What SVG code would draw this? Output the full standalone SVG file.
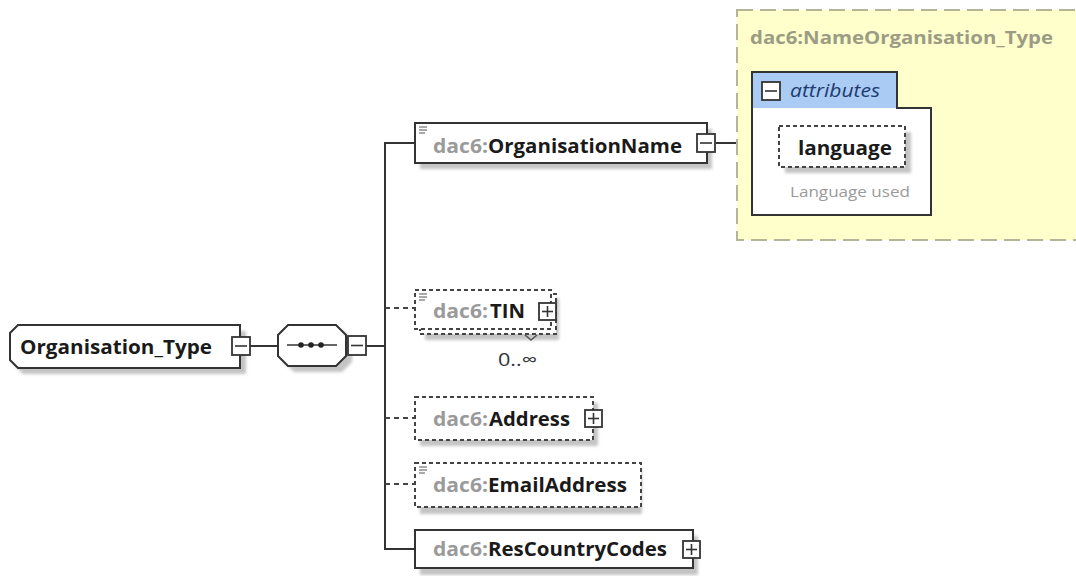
<svg xmlns="http://www.w3.org/2000/svg" width="1076" height="576" viewBox="0 0 1076 576">
<style>
.bg{fill:#ffffff}
.box{fill:#ffffff;stroke:#333333;stroke-width:2}
.dbox{fill:#ffffff;stroke:#444444;stroke-width:2;stroke-dasharray:4 3}
.shadow{fill:#c4c4c4;filter:url(#blur)}
.btn{fill:#ffffff;stroke:#333333;stroke-width:1.8}
.btnl{stroke:#333333;stroke-width:1.6}
.con{fill:none;stroke:#333333;stroke-width:2}
.dcon{fill:none;stroke:#444444;stroke-width:2;stroke-dasharray:5 4}
.t{font-family:"Open Sans","Noto Sans","Liberation Sans",sans-serif;font-weight:bold;font-size:19.5px}
.pre{fill:#9a9a9a}
.nm{fill:#1a1a1a}
.icon{stroke:#555555;stroke-width:1}
</style>
<defs>
<filter id="blur" x="-10%" y="-20%" width="120%" height="140%"><feGaussianBlur stdDeviation="1.5"/></filter>
</defs>
<rect class="bg" x="0" y="0" width="1076" height="576"/>

<g id="connectors">
<line class="con" x1="250" y1="346" x2="277" y2="346"/>
<line class="con" x1="367" y1="346" x2="385" y2="346"/>
<polyline class="con" points="415,143 385,143 385,549 415,549"/>
<line class="dcon" x1="385" y1="308" x2="415" y2="308"/>
<line class="dcon" x1="385" y1="418" x2="415" y2="418"/>
<line class="dcon" x1="385" y1="484" x2="415" y2="484"/>
<line class="con" x1="716" y1="143" x2="752" y2="143"/>
</g>

<g id="Organisation_Type">
<polygon class="shadow" points="23,331 246,331 246,374 23,374 15,366 15,339"/>
<polygon class="box" points="18,325 240,325 240,368 18,368 10,360 10,333"/>
<text class="t nm" x="20" y="354" textLength="192" lengthAdjust="spacingAndGlyphs">Organisation_Type</text>
<rect class="btn" x="232" y="337" width="18" height="18"/>
<line class="btnl" x1="235" y1="346" x2="247" y2="346"/>
</g>

<g id="sequence">
<polygon class="shadow" points="294,330 342,330 352,340 352,362 342,372 294,372 284,362 284,340"/>
<polygon class="box" points="288,325 336,325 346,335 346,356 336,366 288,366 278,356 278,335"/>
<line x1="287" y1="345" x2="337" y2="345" stroke="#333333" stroke-width="1.6"/>
<circle cx="301" cy="345" r="2.8" fill="#222222"/>
<circle cx="311" cy="345" r="2.8" fill="#222222"/>
<circle cx="321" cy="345" r="2.8" fill="#222222"/>
<rect class="btn" x="348" y="336" width="18" height="19"/>
<line class="btnl" x1="351" y1="345.5" x2="363" y2="345.5"/>
</g>

<g id="OrganisationName">
<rect class="shadow" x="420" y="129" width="292" height="40"/>
<rect class="box" x="415" y="123" width="292" height="40"/>
<line class="icon" x1="419" y1="127" x2="427" y2="127"/>
<line class="icon" x1="419" y1="130" x2="427" y2="130"/>
<line class="icon" x1="419" y1="133" x2="425" y2="133"/>
<text class="t" y="153"><tspan class="pre" x="433" textLength="55" lengthAdjust="spacingAndGlyphs">dac6:</tspan><tspan class="nm" x="488" textLength="194" lengthAdjust="spacingAndGlyphs">OrganisationName</tspan></text>
<rect class="btn" x="697" y="134" width="18" height="18"/>
<line class="btnl" x1="700" y1="143" x2="712" y2="143"/>
</g>

<g id="NameOrganisation_Type">
<rect x="737" y="10" width="360" height="230" fill="#ffffcc" stroke="#b4b496" stroke-width="2" stroke-dasharray="16 7"/>
<text x="750" y="44" font-family="'Open Sans','Noto Sans','Liberation Sans',sans-serif" font-weight="bold" font-size="18" fill="#9c9c84" textLength="303" lengthAdjust="spacingAndGlyphs">dac6:NameOrganisation_Type</text>
<polygon points="752,72 897,72 897,108 931,108 931,215 752,215" fill="#ffffff" stroke="#333333" stroke-width="2"/>
<rect x="753" y="73" width="143" height="35" fill="#aaccf4"/>
<rect class="btn" x="762" y="82" width="18" height="18"/>
<line class="btnl" x1="765" y1="91" x2="777" y2="91"/>
<text x="790" y="97" font-family="'Open Sans','Noto Sans','Liberation Sans',sans-serif" font-style="italic" font-size="18" fill="#1f3a6e" textLength="90" lengthAdjust="spacingAndGlyphs">attributes</text>
<rect class="shadow" x="785" y="132" width="126" height="41"/>
<rect class="dbox" x="779" y="126" width="126" height="41"/>
<text class="t nm" x="798" y="155" textLength="94" lengthAdjust="spacingAndGlyphs">language</text>
<text x="790" y="197" font-family="'Open Sans','Noto Sans','Liberation Sans',sans-serif" font-size="14.5" fill="#9a9a9a" textLength="120" lengthAdjust="spacingAndGlyphs">Language used</text>
</g>

<g id="TIN">
<rect class="shadow" x="425" y="298" width="134" height="42"/>
<rect class="dbox" x="420" y="294" width="136" height="40"/>
<rect class="dbox" x="415" y="290" width="136" height="39"/>
<line class="icon" x1="419" y1="294" x2="427" y2="294"/>
<line class="icon" x1="419" y1="297" x2="427" y2="297"/>
<line class="icon" x1="419" y1="300" x2="425" y2="300"/>
<text class="t" y="318"><tspan class="pre" x="433" textLength="55" lengthAdjust="spacingAndGlyphs">dac6:</tspan><tspan class="nm" x="490" textLength="35" lengthAdjust="spacingAndGlyphs">TIN</tspan></text>
<rect class="btn" x="539" y="303" width="17" height="17"/>
<line class="btnl" x1="542" y1="311.5" x2="553" y2="311.5"/>
<line class="btnl" x1="547.5" y1="306" x2="547.5" y2="317"/>
<polyline points="525,335 531,340 537,335" fill="none" stroke="#555555" stroke-width="1.5"/>
<text x="498" y="366" font-family="'Open Sans','Noto Sans','Liberation Sans',sans-serif" font-size="18" fill="#333333" textLength="39" lengthAdjust="spacingAndGlyphs">0..∞</text>
</g>

<g id="Address">
<rect class="shadow" x="420" y="403" width="178" height="43"/>
<rect class="dbox" x="415" y="397" width="178" height="43"/>
<text class="t" y="426"><tspan class="pre" x="433" textLength="55" lengthAdjust="spacingAndGlyphs">dac6:</tspan><tspan class="nm" x="489" textLength="81" lengthAdjust="spacingAndGlyphs">Address</tspan></text>
<rect class="btn" x="585" y="410" width="17" height="17"/>
<line class="btnl" x1="588" y1="418.5" x2="599" y2="418.5"/>
<line class="btnl" x1="593.5" y1="413" x2="593.5" y2="424"/>
</g>

<g id="EmailAddress">
<rect class="shadow" x="420" y="469" width="222" height="45"/>
<rect class="dbox" x="415" y="463" width="226" height="44"/>
<line class="icon" x1="419" y1="467" x2="427" y2="467"/>
<line class="icon" x1="419" y1="470" x2="427" y2="470"/>
<line class="icon" x1="419" y1="473" x2="425" y2="473"/>
<text class="t" y="492"><tspan class="pre" x="433" textLength="55" lengthAdjust="spacingAndGlyphs">dac6:</tspan><tspan class="nm" x="488" textLength="139" lengthAdjust="spacingAndGlyphs">EmailAddress</tspan></text>
</g>

<g id="ResCountryCodes">
<rect class="shadow" x="420" y="536" width="278" height="39"/>
<rect class="box" x="415" y="530" width="278" height="38"/>
<text class="t" y="556"><tspan class="pre" x="433" textLength="55" lengthAdjust="spacingAndGlyphs">dac6:</tspan><tspan class="nm" x="488" textLength="179" lengthAdjust="spacingAndGlyphs">ResCountryCodes</tspan></text>
<rect class="btn" x="683" y="541" width="17" height="17"/>
<line class="btnl" x1="686" y1="549.5" x2="697" y2="549.5"/>
<line class="btnl" x1="691.5" y1="544" x2="691.5" y2="555"/>
</g>
</svg>
